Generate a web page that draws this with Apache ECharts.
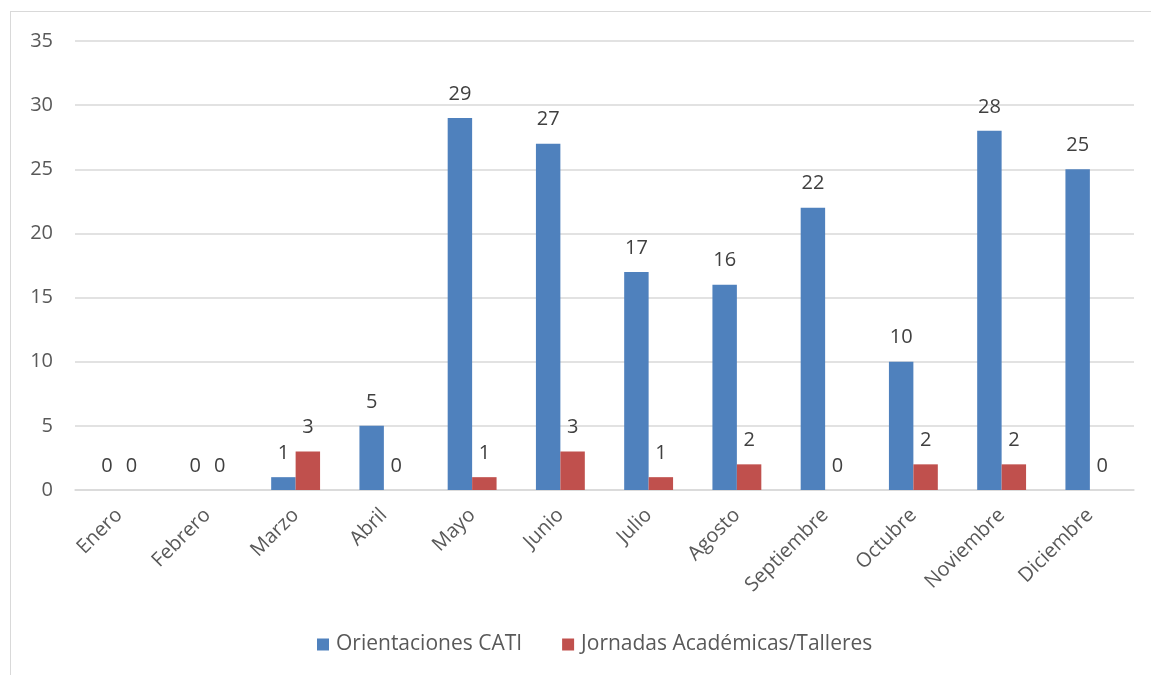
<!DOCTYPE html>
<html><head><meta charset="utf-8">
<script src="https://cdn.jsdelivr.net/npm/echarts@6/dist/echarts.min.js"></script>
<style>html,body{margin:0;padding:0;background:#fff}#c{width:1151px;height:675px}
#frame{position:absolute;left:10px;top:11px;width:1200px;height:700px;border:1px solid #d9d9d9;pointer-events:none}</style>
</head><body><div id="c"></div><div id="frame"></div>
<script>
const categories = ['Enero','Febrero','Marzo','Abril','Mayo','Junio','Julio','Agosto','Septiembre','Octubre','Noviembre','Diciembre'];
const orientaciones = [0,0,1,5,29,27,17,16,22,10,28,25];
const jornadas = [0,0,3,0,1,3,1,2,0,2,2,0];
const seriesNames = ['Orientaciones CATI','Jornadas Académicas/Talleres'];
const FONT = '"Open Sans", sans-serif';
const chart = echarts.init(document.getElementById('c'));
const lbl = {show:true, position:'top', color:'#404040', fontSize:20, fontFamily:FONT, distance:14};
chart.setOption({
  animation:false,
  grid:{left:75,right:17,top:41,bottom:185,containLabel:false},
  legend:{bottom:15,left:312,itemWidth:12,itemHeight:12,itemGap:40,icon:'rect',
    textStyle:{color:'#595959',fontSize:21,fontFamily:FONT,padding:[0,0,0,2]},data:seriesNames},
  xAxis:{type:'category',data:categories,
    axisLine:{lineStyle:{color:'#d9d9d9',width:1.5}},axisTick:{show:false},
    axisLabel:{rotate:45,color:'#595959',fontSize:20,fontFamily:FONT,margin:22,interval:0}},
  yAxis:{type:'value',min:0,max:35,interval:5,
    axisLine:{show:false},axisTick:{show:false},
    splitLine:{lineStyle:{color:'#d9d9d9',width:1.5}},
    axisLabel:{color:'#595959',fontSize:20,fontFamily:FONT,margin:22}},
  series:[
    {name:seriesNames[0],type:'bar',data:orientaciones,barWidth:'27.7%',barGap:'0%',
      itemStyle:{color:'#4f81bd'},label:lbl},
    {name:seriesNames[1],type:'bar',data:jornadas,barWidth:'27.7%',barGap:'0%',
      itemStyle:{color:'#c0504d'},label:lbl}
  ]
});
</script></body></html>
